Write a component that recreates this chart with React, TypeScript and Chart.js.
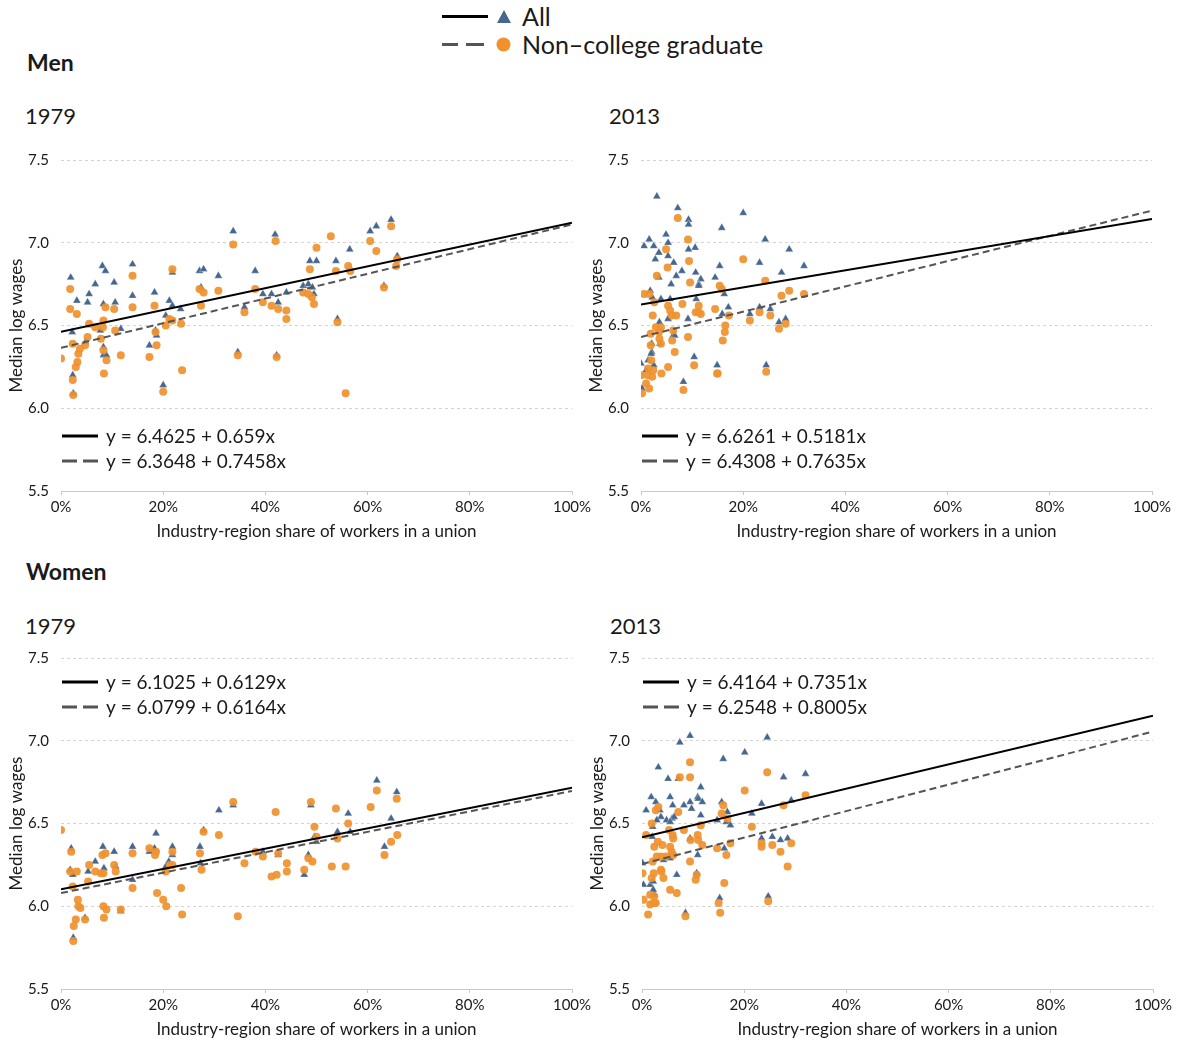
import React, { useEffect, useRef } from 'react';
import { Chart, registerables } from 'chart.js';

Chart.register(...registerables);

const FONT = 'Lato, "Open Sans", sans-serif';

// ---------- data (x = union share %, y = median log wage) ----------
const xTicks = [0, 20, 40, 60, 80, 100];
const yTicks = [5.5, 6.0, 6.5, 7.0, 7.5];

const men1979All: [number, number][] = [
  [1.9, 6.79], [3.1, 6.65], [5.5, 6.69], [5.2, 6.64], [6.7, 6.75], [8.1, 6.86], [8.7, 6.83], [10.4, 6.76],
  [10.6, 6.64], [8.3, 6.63], [14.0, 6.87], [14.0, 6.68], [18.3, 6.7], [21.2, 6.65], [21.8, 6.62], [23.4, 6.6],
  [20.5, 6.56], [21.8, 6.82], [27.1, 6.83], [27.9, 6.84], [30.8, 6.8], [27.4, 6.73], [33.7, 7.07], [41.9, 7.05],
  [38.0, 6.83], [39.5, 6.69], [41.2, 6.69], [42.5, 6.64], [44.1, 6.7], [35.9, 6.61], [47.4, 6.74], [48.4, 6.75],
  [2.2, 6.46], [7.7, 6.47], [11.7, 6.48], [4.8, 6.4], [8.3, 6.37], [8.3, 6.32], [8.9, 6.32], [17.3, 6.38],
  [18.5, 6.47], [18.7, 6.44], [34.6, 6.34], [42.2, 6.32], [2.3, 6.2], [2.4, 6.09], [20.0, 6.14], [48.7, 6.89],
  [50.0, 6.89], [53.8, 6.89], [56.5, 6.96], [60.5, 7.07], [61.7, 7.1], [64.6, 7.14], [65.8, 6.92], [49.2, 6.73],
  [49.5, 6.69], [54.1, 6.54], [63.2, 6.74],
];
const men1979Ncg: [number, number][] = [
  [0, 6.3], [1.8, 6.72], [1.8, 6.6], [3.1, 6.57], [2.3, 6.39], [2.3, 6.17], [2.4, 6.08], [2.9, 6.25],
  [3.2, 6.28], [3.4, 6.33], [3.7, 6.36], [4.7, 6.38], [5.2, 6.43], [5.5, 6.51], [6.7, 6.49], [7.8, 6.42],
  [8.2, 6.49], [8.3, 6.53], [8.3, 6.35], [8.4, 6.21], [8.9, 6.29], [8.7, 6.61], [10.4, 6.6], [10.6, 6.47],
  [11.7, 6.32], [14.0, 6.8], [14.0, 6.61], [17.3, 6.31], [18.3, 6.62], [18.5, 6.46], [18.7, 6.38], [20.0, 6.1],
  [20.5, 6.5], [21.2, 6.54], [21.8, 6.53], [21.8, 6.84], [23.5, 6.51], [23.7, 6.23], [27.1, 6.72], [27.9, 6.7],
  [27.4, 6.62], [30.8, 6.71], [33.7, 6.99], [34.6, 6.32], [35.9, 6.58], [38.0, 6.72], [39.5, 6.64], [41.2, 6.62],
  [42.0, 7.01], [42.5, 6.6], [42.2, 6.31], [44.1, 6.59], [44.1, 6.54], [47.4, 6.7], [48.4, 6.69], [48.7, 6.84],
  [49.1, 6.67], [49.5, 6.63], [50.0, 6.97], [52.8, 7.04], [53.8, 6.83], [56.2, 6.86], [56.6, 6.83], [60.5, 7.01],
  [61.7, 6.95], [64.6, 7.1], [65.8, 6.9], [65.6, 6.86], [63.2, 6.73], [54.1, 6.52], [55.7, 6.09],
];
const men1979AllFit = [6.4625, 0.659];
const men1979NcgFit = [6.3648, 0.7458];

const men2013All: [number, number][] = [
  [3.1, 7.28], [7.2, 7.21], [9.3, 7.14], [9.3, 7.11], [4.9, 7.05], [5.3, 7.0], [1.6, 7.02], [0.6, 6.98],
  [2.5, 6.98], [3.5, 6.94], [2.8, 6.9], [5.3, 6.92], [6.4, 6.88], [9.3, 6.96], [10.6, 6.97], [15.8, 7.09],
  [20.0, 7.18], [24.3, 7.02], [29.0, 6.96], [23.2, 6.88], [31.9, 6.86], [27.5, 6.82], [15.4, 6.86], [8.0, 6.83],
  [6.9, 6.8], [3.5, 6.79], [5.9, 6.75], [10.7, 6.82], [11.7, 6.78], [11.3, 6.75], [11.3, 6.74], [14.5, 6.79],
  [1.8, 6.71], [2.2, 6.67], [3.9, 6.66], [5.7, 6.66], [10.8, 6.66], [16.3, 6.69], [17.1, 6.61], [15.9, 6.57],
  [21.3, 6.57], [23.2, 6.61], [25.3, 6.6], [27.0, 6.52], [28.3, 6.54], [5.3, 6.54], [3.6, 6.52], [9.2, 6.54],
  [6.3, 6.44], [6.6, 6.44], [3.7, 6.39], [2.1, 6.39], [2.1, 6.34], [1.4, 6.29], [0, 6.27], [1.0, 6.23],
  [2.5, 6.26], [10.4, 6.31], [14.9, 6.26], [24.5, 6.26], [8.3, 6.16], [0.2, 6.12], [2.0, 6.33],
];
const men2013Ncg: [number, number][] = [
  [7.2, 7.15], [9.2, 7.02], [4.9, 6.96], [5.2, 6.85], [9.4, 6.89], [3.1, 6.8], [9.6, 6.76], [20.0, 6.9],
  [24.3, 6.77], [15.4, 6.74], [15.8, 6.72], [29.0, 6.71], [27.5, 6.68], [31.9, 6.69], [0.6, 6.69], [1.6, 6.69],
  [2.6, 6.64], [5.3, 6.62], [8.1, 6.63], [11.3, 6.62], [11.3, 6.58], [5.7, 6.59], [6.0, 6.56], [6.9, 6.56],
  [10.7, 6.58], [11.7, 6.57], [14.5, 6.6], [17.2, 6.56], [21.3, 6.53], [23.2, 6.58], [25.3, 6.56], [27.0, 6.48],
  [28.3, 6.51], [2.3, 6.56], [2.9, 6.49], [3.9, 6.49], [3.5, 6.46], [1.9, 6.45], [6.3, 6.47], [9.2, 6.43],
  [16.5, 6.5], [16.4, 6.46], [16.0, 6.41], [3.6, 6.42], [6.1, 6.41], [3.9, 6.39], [1.9, 6.38], [6.6, 6.34],
  [2.0, 6.29], [2.4, 6.23], [1.4, 6.24], [0, 6.2], [1.3, 6.2], [2.2, 6.19], [4.0, 6.21], [5.3, 6.25],
  [10.4, 6.26], [14.9, 6.21], [15.0, 6.21], [24.5, 6.22], [1.0, 6.15], [1.6, 6.12], [0.2, 6.09], [8.3, 6.11],
];
const men2013AllFit = [6.6261, 0.5181];
const men2013NcgFit = [6.4308, 0.7635];

const women1979All: [number, number][] = [
  [2.0, 6.35], [1.8, 6.22], [2.3, 6.19], [5.3, 6.21], [6.7, 6.27], [8.2, 6.36], [8.4, 6.23], [10.4, 6.33],
  [10.7, 6.24], [14.0, 6.36], [14.0, 6.16], [11.7, 5.97], [4.7, 5.93], [2.4, 5.81], [18.6, 6.44], [18.3, 6.35],
  [17.3, 6.33], [21.8, 6.36], [21.8, 6.31], [20.5, 6.24], [21.1, 6.27], [27.2, 6.36], [27.9, 6.46], [27.3, 6.26],
  [30.9, 6.58], [33.7, 6.61], [39.5, 6.33], [42.5, 6.31], [47.6, 6.19], [48.4, 6.31], [48.9, 6.61], [49.6, 6.42],
  [50.0, 6.39], [54.1, 6.45], [56.2, 6.56], [56.6, 6.45], [61.8, 6.76], [65.7, 6.69], [64.6, 6.53], [63.3, 6.36],
];
const women1979Ncg: [number, number][] = [
  [0, 6.46], [2.0, 6.33], [1.8, 6.21], [3.1, 6.21], [2.3, 6.12], [3.3, 6.04], [3.4, 6.0], [3.8, 5.99],
  [2.9, 5.92], [2.5, 5.88], [2.4, 5.79], [4.7, 5.92], [5.3, 6.15], [5.5, 6.25], [6.7, 6.21], [7.8, 6.2],
  [8.3, 6.2], [8.1, 6.31], [8.7, 6.32], [10.4, 6.25], [10.7, 6.21], [8.3, 6.0], [8.9, 5.98], [8.4, 5.93],
  [11.7, 5.98], [14.0, 6.32], [14.0, 6.11], [17.3, 6.35], [18.6, 6.33], [18.4, 6.31], [21.8, 6.33], [21.3, 6.25],
  [21.8, 6.25], [20.5, 6.21], [18.8, 6.08], [20.0, 6.04], [20.6, 6.0], [23.5, 6.11], [23.7, 5.95], [27.2, 6.32],
  [27.9, 6.45], [27.5, 6.22], [30.9, 6.43], [33.7, 6.63], [34.6, 5.94], [35.9, 6.26], [38.1, 6.33], [39.5, 6.3],
  [42.0, 6.57], [42.5, 6.32], [41.2, 6.18], [42.2, 6.19], [44.2, 6.26], [44.2, 6.21], [47.6, 6.22], [48.4, 6.29],
  [49.2, 6.27], [48.9, 6.63], [49.6, 6.48], [50.0, 6.42], [53.0, 6.24], [53.8, 6.59], [54.1, 6.41], [55.7, 6.24],
  [56.2, 6.5], [60.6, 6.6], [61.8, 6.7], [65.7, 6.65], [65.8, 6.43], [64.6, 6.39], [63.3, 6.31],
];
const women1979AllFit = [6.1025, 0.6129];
const women1979NcgFit = [6.0799, 0.6164];

const women2013All: [number, number][] = [
  [9.4, 7.03], [7.4, 6.99], [24.5, 7.02], [20.1, 6.93], [15.9, 6.89], [3.2, 6.84], [5.1, 6.77], [7.1, 6.77],
  [11.5, 6.72], [27.7, 6.78], [32.0, 6.8], [1.8, 6.66], [5.5, 6.66], [2.7, 6.63], [6.0, 6.61], [8.2, 6.61],
  [9.4, 6.63], [10.9, 6.66], [11.0, 6.65], [11.8, 6.63], [9.7, 6.59], [0.8, 6.58], [3.5, 6.58], [3.7, 6.54],
  [2.9, 6.52], [4.8, 6.52], [5.9, 6.53], [6.3, 6.54], [5.5, 6.51], [2.1, 6.48], [2.0, 6.42], [11.5, 6.55],
  [15.6, 6.63], [16.7, 6.57], [14.7, 6.52], [16.5, 6.51], [17.3, 6.49], [21.5, 6.56], [23.4, 6.62], [29.2, 6.64],
  [9.4, 6.41], [23.4, 6.41], [25.5, 6.42], [27.1, 6.4], [28.5, 6.41], [16.1, 6.35], [10.9, 6.31], [5.5, 6.29],
  [4.2, 6.28], [0.1, 6.26], [6.8, 6.19], [10.7, 6.2], [0.3, 6.13], [1.6, 6.13], [2.2, 6.15], [2.4, 6.07],
  [2.2, 6.1], [15.2, 6.05], [24.7, 6.06], [8.5, 5.96],
];
const women2013Ncg: [number, number][] = [
  [9.4, 6.87], [9.4, 6.78], [7.4, 6.78], [24.5, 6.81], [20.1, 6.7], [3.2, 6.6], [2.7, 6.58], [7.1, 6.57],
  [1.9, 6.5], [0.8, 6.43], [5.3, 6.46], [6.0, 6.43], [6.1, 6.41], [8.2, 6.46], [9.5, 6.4], [10.9, 6.43],
  [11.5, 6.49], [11.0, 6.4], [11.8, 6.37], [15.9, 6.61], [15.6, 6.56], [16.7, 6.53], [14.7, 6.35], [17.3, 6.38],
  [16.5, 6.31], [21.5, 6.48], [27.7, 6.61], [32.0, 6.67], [23.4, 6.38], [23.4, 6.36], [25.5, 6.37], [27.1, 6.33],
  [29.2, 6.38], [28.5, 6.24], [2.4, 6.36], [4.0, 6.37], [3.1, 6.39], [5.5, 6.36], [5.8, 6.33], [6.1, 6.31],
  [2.9, 6.3], [3.7, 6.3], [2.1, 6.27], [4.7, 6.3], [3.7, 6.22], [3.8, 6.21], [0.1, 6.2], [2.3, 6.2],
  [1.9, 6.17], [4.2, 6.17], [9.4, 6.27], [10.7, 6.19], [10.5, 6.16], [5.5, 6.1], [6.8, 6.08], [16.1, 6.14],
  [0.3, 6.04], [1.6, 6.07], [2.4, 6.06], [2.2, 6.02], [1.6, 6.01], [2.7, 6.02], [15.0, 6.02], [24.7, 6.03],
  [1.2, 5.95], [8.5, 5.94], [15.3, 5.96],
];
const women2013AllFit = [6.4164, 0.7351];
const women2013NcgFit = [6.2548, 0.8005];

const BLUE = '#46678f';
const ORANGE = 'rgba(240,145,46,0.93)';
const TEXT = '#1a1a1a';

type PanelProps = {
  left: number;
  top: number;
  all: [number, number][];
  ncg: [number, number][];
  fitAll: number[];
  fitNcg: number[];
  eqAtTop: boolean;
};

function fitLine(fit: number[]) {
  const x0 = xTicks[0];
  const x1 = xTicks[xTicks.length - 1];
  return [x0, x1].map((x) => ({ x, y: fit[0] + (fit[1] * x) / 100 }));
}

function Panel({ left, top, all, ncg, fitAll, fitNcg, eqAtTop }: PanelProps) {
  const ref = useRef<HTMLCanvasElement>(null);
  useEffect(() => {
    if (!ref.current) return;
    const eqRows = [
      { text: `y = ${fitAll[0]} + ${fitAll[1]}x`, dash: [] as number[], color: '#000' },
      { text: `y = ${fitNcg[0]} + ${fitNcg[1]}x`, dash: [15, 6], color: '#555' },
    ];
    const eqPlugin = {
      id: 'eqLegend',
      afterDraw(chart: any) {
        const { ctx, chartArea } = chart;
        const base = eqAtTop ? chartArea.top + 24 : chartArea.top + 276;
        eqRows.forEach((r, i) => {
          const y = base + i * 25;
          ctx.save();
          ctx.strokeStyle = r.color;
          ctx.lineWidth = 3;
          ctx.setLineDash(r.dash);
          ctx.beginPath();
          ctx.moveTo(chartArea.left + 1, y);
          ctx.lineTo(chartArea.left + 37, y);
          ctx.stroke();
          ctx.setLineDash([]);
          ctx.fillStyle = TEXT;
          ctx.font = `19px ${FONT}`;
          ctx.textBaseline = 'middle';
          ctx.textAlign = 'left';
          ctx.fillText(r.text, chartArea.left + 45, y + 1);
          ctx.restore();
        });
      },
    };
    const chart = new Chart(ref.current, {
      type: 'scatter',
      data: {
        datasets: [
          {
            type: 'line',
            data: fitLine(fitAll),
            borderColor: '#000',
            borderWidth: 2,
            pointRadius: 0,
            fill: false,
          } as any,
          {
            type: 'line',
            data: fitLine(fitNcg),
            borderColor: '#555',
            borderWidth: 2,
            borderDash: [7, 4],
            pointRadius: 0,
            fill: false,
          } as any,
          {
            data: ncg.map(([x, y]) => ({ x, y })),
            pointStyle: 'circle',
            pointRadius: 4,
            backgroundColor: ORANGE,
            borderWidth: 0,
          },
          {
            data: all.map(([x, y]) => ({ x, y })),
            pointStyle: 'triangle',
            pointRadius: 4.6,
            backgroundColor: BLUE,
            borderColor: 'rgba(255,255,255,0.6)',
            borderWidth: 0.5,
          },
        ],
      },
      options: {
        animation: false,
        responsive: false,
        events: [],
        layout: { padding: { top: 10, right: 22, left: 0, bottom: 0 } },
        plugins: { legend: { display: false }, tooltip: { enabled: false } },
        scales: {
          x: {
            type: 'linear',
            min: xTicks[0],
            max: xTicks[xTicks.length - 1],
            afterBuildTicks: (s: any) => {
              s.ticks = xTicks.map((v) => ({ value: v }));
            },
            ticks: {
              callback: (v: any) => `${v}%`,
              font: { family: FONT, size: 15 },
              color: TEXT,
              padding: 3,
              maxRotation: 0,
              autoSkip: false,
            },
            grid: { drawOnChartArea: false, drawTicks: true, tickLength: 4, color: '#c8c8c8' },
            border: { color: '#c8c8c8', width: 1 },
            title: {
              display: true,
              text: 'Industry-region share of workers in a union',
              font: { family: FONT, size: 17 },
              color: TEXT,
              padding: { top: 0, bottom: 3 },
            },
            afterFit: (s: any) => {
              s.height = 54;
              s.paddingLeft = 0;
              s.paddingRight = 0;
            },
          },
          y: {
            type: 'linear',
            min: yTicks[0],
            max: yTicks[yTicks.length - 1],
            afterBuildTicks: (s: any) => {
              s.ticks = yTicks.map((v) => ({ value: v }));
            },
            ticks: {
              callback: (v: any) => Number(v).toFixed(1),
              font: { family: FONT, size: 15 },
              color: TEXT,
              padding: 12,
            },
            grid: {
              drawTicks: false,
              color: (c: any) => (c.tick && c.tick.value === yTicks[0] ? 'rgba(0,0,0,0)' : '#d4d4d4'),
            },
            border: { display: false, dash: [3, 3] },
            title: {
              display: true,
              text: 'Median log wages',
              font: { family: FONT, size: 17 },
              color: TEXT,
              padding: { top: 6, bottom: 0 },
            },
            afterFit: (s: any) => {
              s.width = 61;
              s.paddingTop = 0;
              s.paddingBottom = 0;
            },
          },
        },
      } as any,
      plugins: [eqPlugin],
    });
    return () => chart.destroy();
  }, []);
  return (
    <canvas
      ref={ref}
      width={594}
      height={395}
      style={{ position: 'absolute', left, top, width: 594, height: 395 }}
    />
  );
}

const abs = (left: number, top: number, size: number, bold = false): React.CSSProperties => ({
  position: 'absolute',
  left,
  top,
  fontSize: size,
  lineHeight: `${size}px`,
  fontWeight: bold ? 700 : 400,
  fontFamily: FONT,
  color: TEXT,
  whiteSpace: 'nowrap',
});

export default function App() {
  return (
    <div style={{ position: 'absolute', left: 0, top: 0, width: 1182, height: 1041, background: '#fff', fontFamily: FONT }}>
      {/* top legend */}
      <div style={{ position: 'absolute', left: 442, top: 15, width: 46, height: 3, background: '#000' }} />
      <svg style={{ position: 'absolute', left: 496, top: 9 }} width={16} height={15}>
        <polygon points="8,1 15,14 1,14" fill={BLUE} />
      </svg>
      <div style={abs(522, 4, 25)}>All</div>
      <div style={{ position: 'absolute', left: 442, top: 43, width: 16, height: 3, background: '#555' }} />
      <div style={{ position: 'absolute', left: 466, top: 43, width: 18, height: 3, background: '#555' }} />
      <svg style={{ position: 'absolute', left: 496, top: 37 }} width={15} height={15}>
        <circle cx={7.5} cy={7.5} r={7} fill="rgb(240,145,46)" />
      </svg>
      <div style={abs(522, 32, 25)}>Non–college graduate</div>

      <div style={abs(27, 51, 23, true)}>Men</div>
      <div style={abs(25, 105, 22)}>1979</div>
      <div style={abs(609, 105, 22)}>2013</div>
      <div style={abs(26, 560, 23, true)}>Women</div>
      <div style={abs(25, 615, 22)}>1979</div>
      <div style={abs(610, 615, 22)}>2013</div>

      <Panel left={0} top={150} all={men1979All} ncg={men1979Ncg} fitAll={men1979AllFit} fitNcg={men1979NcgFit} eqAtTop={false} />
      <Panel left={580} top={150} all={men2013All} ncg={men2013Ncg} fitAll={men2013AllFit} fitNcg={men2013NcgFit} eqAtTop={false} />
      <Panel left={0} top={648} all={women1979All} ncg={women1979Ncg} fitAll={women1979AllFit} fitNcg={women1979NcgFit} eqAtTop={true} />
      <Panel left={581} top={648} all={women2013All} ncg={women2013Ncg} fitAll={women2013AllFit} fitNcg={women2013NcgFit} eqAtTop={true} />
    </div>
  );
}
